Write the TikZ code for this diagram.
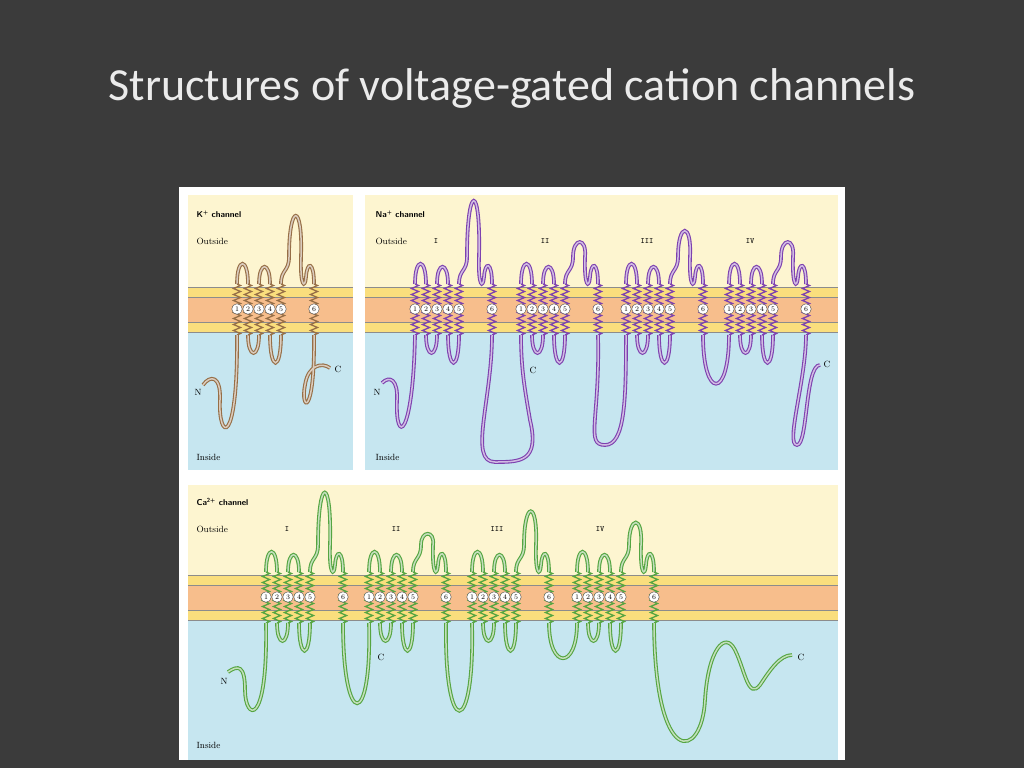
\documentclass[tikz,border=0pt]{standalone}
\usepackage{fontspec}
\newfontfamily\titlefont{Carlito}
\usetikzlibrary{decorations.pathmorphing}

\definecolor{slide}{RGB}{59,59,59}
\definecolor{outsidebg}{RGB}{253,245,208}
\definecolor{insidebg}{RGB}{198,230,240}
\definecolor{lipid}{RGB}{250,222,125}
\definecolor{core}{RGB}{247,190,140}
\definecolor{kcol}{RGB}{150,110,70}
\definecolor{nacol}{RGB}{125,65,175}
\definecolor{cacol}{RGB}{85,165,65}

\tikzset{
  tube/.style={draw=#1, double=#1!35, double distance=1.5pt, line width=1.1pt},
  helix/.style={draw=#1, line width=1.3pt, decorate,
    decoration={zigzag, segment length=6pt, amplitude=3.5pt}},
  res/.style={circle, draw=black!70, fill=white, inner sep=0pt,
    minimum size=10.5pt, font=\fontsize{7}{7}\selectfont},
  lbl/.style={anchor=west, font=\fontsize{9}{10}\selectfont},
  hdr/.style={anchor=west, font=\sffamily\bfseries\fontsize{8.5}{10}\selectfont},
  roman/.style={font=\ttfamily\fontsize{8}{8}\selectfont},
}

% one six-helix repeat: name, x, membrane top, colour, P-loop top (relative)
\newcommand{\chdomain}[5]{%
  \begin{scope}[shift={(#2,#3)}]
    \draw[tube=#4] (0,-3) .. controls (0,-30) and (11,-30) .. (11,-3)
      (11,48) .. controls (11,72) and (22,72) .. (22,48)
      (22,-3) .. controls (22,-26) and (33,-26) .. (33,-3)
      (33,48) .. controls (33,85) and (44,85) .. (44,48)
      (44,-3) .. controls (44,-18) and (52,-15) .. (52,-30)
        .. controls (52,#5) and (66,#5) .. (64,-30)
        .. controls (63,0) and (68,2) .. (69,-10)
        .. controls (70,-26) and (77,-26) .. (77,-3);
    \foreach \hx in {0,11,22,33,44,77}
      \draw[helix=#4] (\hx,-3) -- (\hx,48);
    \foreach \hx/\n in {0/1,11/2,22/3,33/4,44/5,77/6}
      \node[res] at (\hx,22) {\n};
    \coordinate (#1-a) at (0,48);
    \coordinate (#1-b) at (77,48);
  \end{scope}}

\newcommand{\panel}[5]{% x1, y1, x2, y2, membrane top
  \fill[outsidebg] (#1,#2) rectangle (#3,#5);
  \fill[insidebg] (#1,#5+45) rectangle (#3,#4);
  \fill[lipid] (#1,#5) rectangle (#3,#5+45);
  \fill[core] (#1,#5+10) rectangle (#3,#5+35);
  \draw[black!45, line width=0.4pt] (#1,#5) -- (#3,#5) (#1,#5+45) -- (#3,#5+45)
    (#1,#5+10) -- (#3,#5+10) (#1,#5+35) -- (#3,#5+35);}

\begin{document}
\begin{tikzpicture}[x=1pt, y=-1pt]
  \fill[slide] (0,0) rectangle (1024,768);
  \useasboundingbox (0,0) rectangle (1024,768);
  \node[font=\titlefont\fontsize{46}{50}\selectfont, text=white!92!black] (title) at (512,88)
    {Structures of voltage-gated cation channels};
  \fill[white] (179,187) rectangle (845,760);

  % K+ channel
  \panel{188}{195}{353}{470}{287}
  \node[hdr] (khdr) at (193,214) {K\textsuperscript{+} channel};
  \node[lbl] (kout) at (193,241) {Outside};
  \node[lbl] (kin) at (193,457) {Inside};
  \chdomain{K}{237}{287}{kcol}{-85}
  \draw[tube=kcol] (K-a) .. controls (238,450) and (218,440) .. (220,400)
    .. controls (221,375) and (210,375) .. (203,385);
  \draw[tube=kcol] (K-b) .. controls (315,420) and (300,410) .. (305,385)
    .. controls (308,365) and (322,362) .. (330,368);
  \node[lbl] (kn) at (191,392) {N};
  \node[lbl] (kc) at (331,369) {C};

  % Na+ channel
  \panel{365}{195}{838}{470}{287}
  \node[hdr] (nahdr) at (372,214) {Na\textsuperscript{+} channel};
  \node[lbl] (naout) at (372,241) {Outside};
  \node[lbl] (nain) at (372,457) {Inside};
  \foreach \rx/\rn in {436/I,545/II,647/III,750/IV}
    \node[roman] at (\rx,241) {\rn};
  \chdomain{NaI}{415}{287}{nacol}{-105}
  \chdomain{NaII}{521}{287}{nacol}{-50}
  \chdomain{NaIII}{626}{287}{nacol}{-65}
  \chdomain{NaIV}{729}{287}{nacol}{-50}
  \draw[tube=nacol] (NaI-a) .. controls (413,440) and (395,445) .. (397,400)
    .. controls (398,380) and (390,375) .. (382,383);
  \draw[tube=nacol] (NaI-b) .. controls (492,400) and (468,462) .. (495,462)
    .. controls (520,462) and (540,462) .. (530,420) .. controls (525,390) and (521,370) .. (NaII-a);
  \draw[tube=nacol] (NaII-b) .. controls (600,420) and (585,445) .. (605,445)
    .. controls (625,445) and (626,400) .. (NaIII-a);
  \draw[tube=nacol] (NaIII-b) .. controls (703,400) and (729,400) .. (NaIV-a);
  \draw[tube=nacol] (NaIV-b) .. controls (806,380) and (785,445) .. (797,445)
    .. controls (808,445) and (805,365) .. (820,365);
  \node[lbl] (nan) at (370,392) {N};
  \node[lbl] (nac1) at (526,370) {C};
  \node[lbl] (nac2) at (820,364) {C};

  % Ca2+ channel
  \panel{188}{485}{838}{760}{575}
  \node[hdr] (cahdr) at (193,502) {Ca\textsuperscript{2+} channel};
  \node[lbl] (caout) at (193,529) {Outside};
  \node[lbl] (cain) at (193,745) {Inside};
  \foreach \rx/\rn in {287/I,396/II,497/III,600/IV}
    \node[roman] at (\rx,529) {\rn};
  \chdomain{CaI}{266}{575}{cacol}{-100}
  \chdomain{CaII}{369}{575}{cacol}{-45}
  \chdomain{CaIII}{472}{575}{cacol}{-75}
  \chdomain{CaIV}{577}{575}{cacol}{-60}
  \draw[tube=cacol] (CaI-a) .. controls (268,730) and (245,720) .. (245,690)
    .. controls (245,665) and (238,665) .. (228,672);
  \draw[tube=cacol] (CaI-b) .. controls (343,730) and (372,730) .. (CaII-a);
  \draw[tube=cacol] (CaII-b) .. controls (444,740) and (475,740) .. (CaIII-a);
  \draw[tube=cacol] (CaIII-b) .. controls (549,670) and (577,670) .. (CaIV-a);
  \draw[tube=cacol] (CaIV-b) .. controls (655,770) and (702,760) .. (705,700)
    .. controls (708,650) and (725,630) .. (735,650)
    .. controls (745,670) and (748,700) .. (760,685)
    .. controls (770,670) and (780,655) .. (792,655);
  \node[lbl] (can) at (217,681) {N};
  \node[lbl] (cac1) at (374,657) {C};
  \node[lbl] (cac2) at (794,657) {C};
\end{tikzpicture}
\end{document}
